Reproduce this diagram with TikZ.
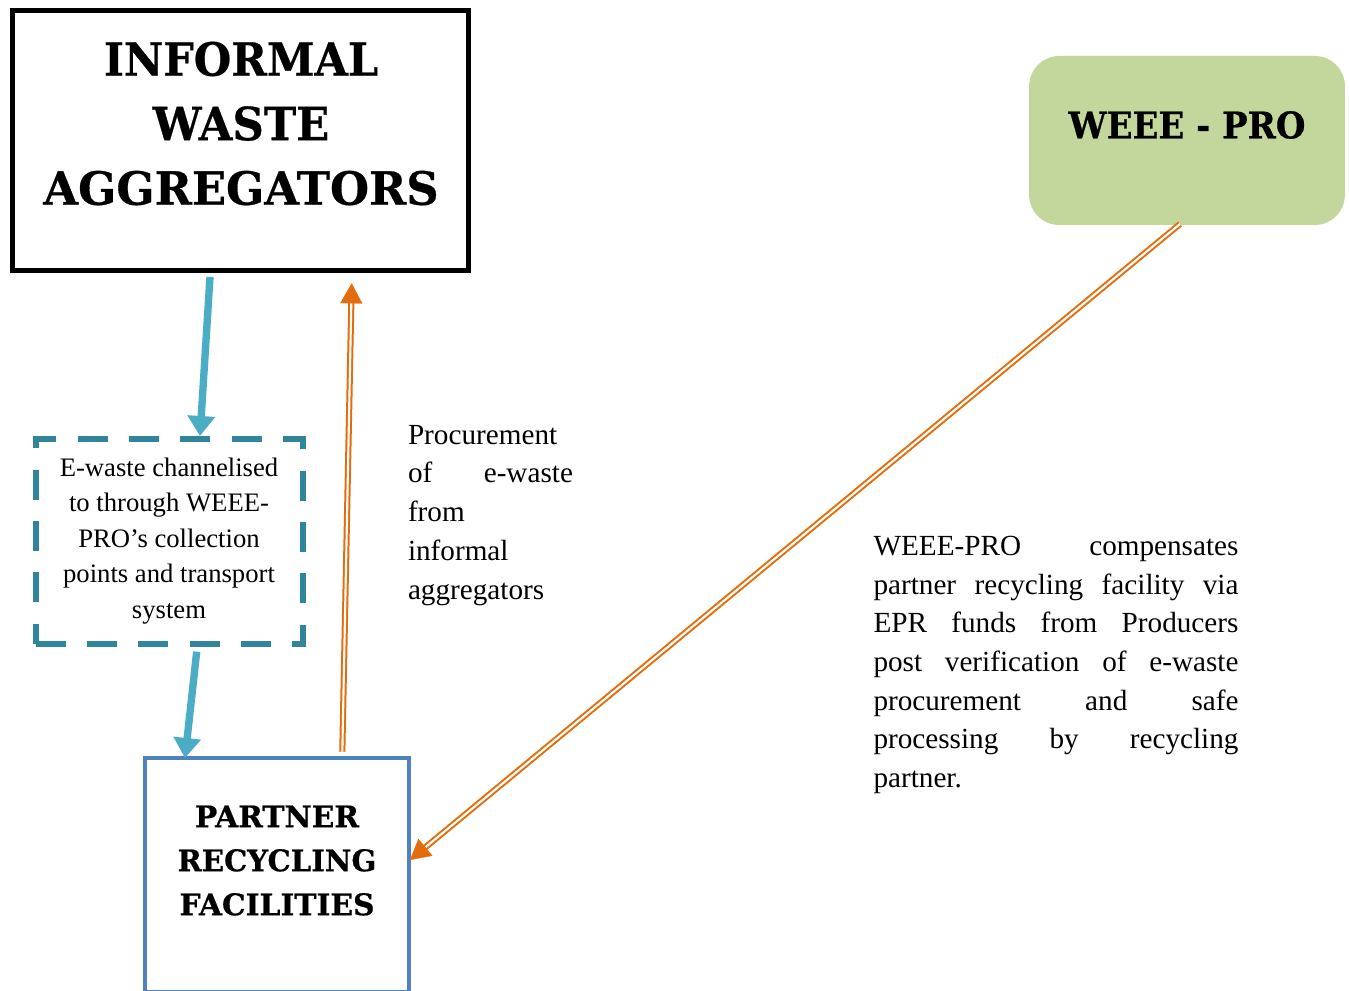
\documentclass[tikz,border=0pt]{standalone}
\usepackage{fontspec}
\setmainfont{Liberation Serif}
\newfontfamily\headfont{DejaVu Serif}[BoldFeatures={FakeBold=0.6}]
\usetikzlibrary{arrows.meta,calc}
\definecolor{tealdash}{RGB}{49,133,155}
\definecolor{bluearrow}{RGB}{75,172,198}
\definecolor{partblue}{RGB}{79,129,189}
\definecolor{weegreen}{RGB}{195,214,155}
\definecolor{orangearr}{RGB}{228,108,10}
\setlength{\parindent}{0pt}
\tolerance=10000
\hyphenpenalty=10000
\exhyphenpenalty=10000
\begin{document}
\begin{tikzpicture}[x=0.75pt,y=-0.75pt,
  box/.style={rectangle, inner sep=0pt, outer sep=0pt},
  textlab/.style={inner sep=0pt, outer sep=0pt},
  bluearr/.style={draw=bluearrow, line width=5.5pt, -{Triangle[length=15pt,width=20pt]}},
  orangedbl/.style={draw=orangearr, line width=1.5pt, double=white, double distance=1.6pt},
  orangetip/.style={draw=orangearr, fill=orangearr, line width=0.2pt, -{Triangle[length=15pt,width=16.5pt]}}]
\useasboundingbox (0,0) rectangle (1349,991);

% boxes
\node[box, draw=black, line width=3.6pt, minimum width=342pt, minimum height=195pt] (inf) at (240.5,140.6) {};
\node[box, draw=tealdash, line width=4.5pt, dash pattern=on 22.5pt off 16pt, minimum width=200.25pt, minimum height=154.1pt] (chan) at (169,541.75) {};
\node[box, draw=partblue, line width=3.5pt, minimum width=198pt, minimum height=175.5pt] (part) at (277,875) {};
\node[box, fill=weegreen, rounded corners=22.5pt, minimum width=236.8pt, minimum height=126.75pt] (weee) at (1187,140.5) {};

% labels
\node[textlab, anchor=north, align=center, font=\headfont\bfseries\fontsize{34.3}{48.4}\selectfont] (inflab) at (241,41.7) {\scalebox{0.94}[1]{INFORMAL}\\\scalebox{0.95}[1]{WASTE}\\\scalebox{0.98}[1]{AGGREGATORS}};
\node[textlab, anchor=base, font=\headfont\bfseries\fontsize{27.4}{33}\selectfont] (weelab) at (1187,138.3) {\scalebox{0.93}[1]{WEEE - PRO}};
\node[textlab, anchor=north, align=center, font=\headfont\bfseries\fontsize{22.3}{33}\selectfont] (partlab) at (277,805.5) {PARTNER\\\scalebox{0.98}[1]{RECYCLING}\\FACILITIES};
\node[textlab, anchor=north, align=center, font=\fontsize{20}{26.6}\selectfont] (chanlab) at (169,458) {E-waste channelised\\to through WEEE-\\PRO’s collection\\points and transport\\system};
\node[textlab, anchor=north west, text width=123.75pt, align=justify, font=\fontsize{21.9}{29.1}\selectfont] (proc) at (408,425) {Procurement\linebreak of e-waste\linebreak from\linebreak informal\linebreak aggregators};
\node[textlab, anchor=north west, text width=273.75pt, align=justify, font=\fontsize{21.9}{29}\selectfont] (comp) at (873.5,536) {WEEE-PRO compensates\linebreak partner recycling facility via\linebreak EPR funds from Producers\linebreak post verification of e-waste\linebreak procurement and safe\linebreak processing by recycling\linebreak partner.};

% connector end points
\coordinate (b1s) at ($(inf.south)+(-30.5,6.4)$);
\coordinate (b1e) at ($(chan.north)+(31,-3)$);
\coordinate (b2s) at ($(chan.south)+(27.7,7.2)$);
\coordinate (b2e) at ($(part.north)+(-92,0)$);
\coordinate (o1s) at ($(part.north)+(65.3,-6.3)$);
\coordinate (o1e) at ($(inf.south)+(111.2,12.7)$);
\coordinate (o2s) at ($(weee.south)+(-7,-1)$);
\coordinate (o2e) at ($(part.east)+(1,-15)$);

% connectors
\draw[bluearr] (b1s) -- (b1e);
\draw[bluearr] (b2s) -- (b2e);
\draw[orangedbl, shorten >=10pt] (o1s) -- (o1e);
\draw[orangetip] ($(o1e)!14pt!(o1s)$) -- (o1e);
\draw[orangedbl, shorten >=10pt] (o2s) -- (o2e);
\draw[orangetip] ($(o2e)!14pt!(o2s)$) -- (o2e);
\end{tikzpicture}
\end{document}
